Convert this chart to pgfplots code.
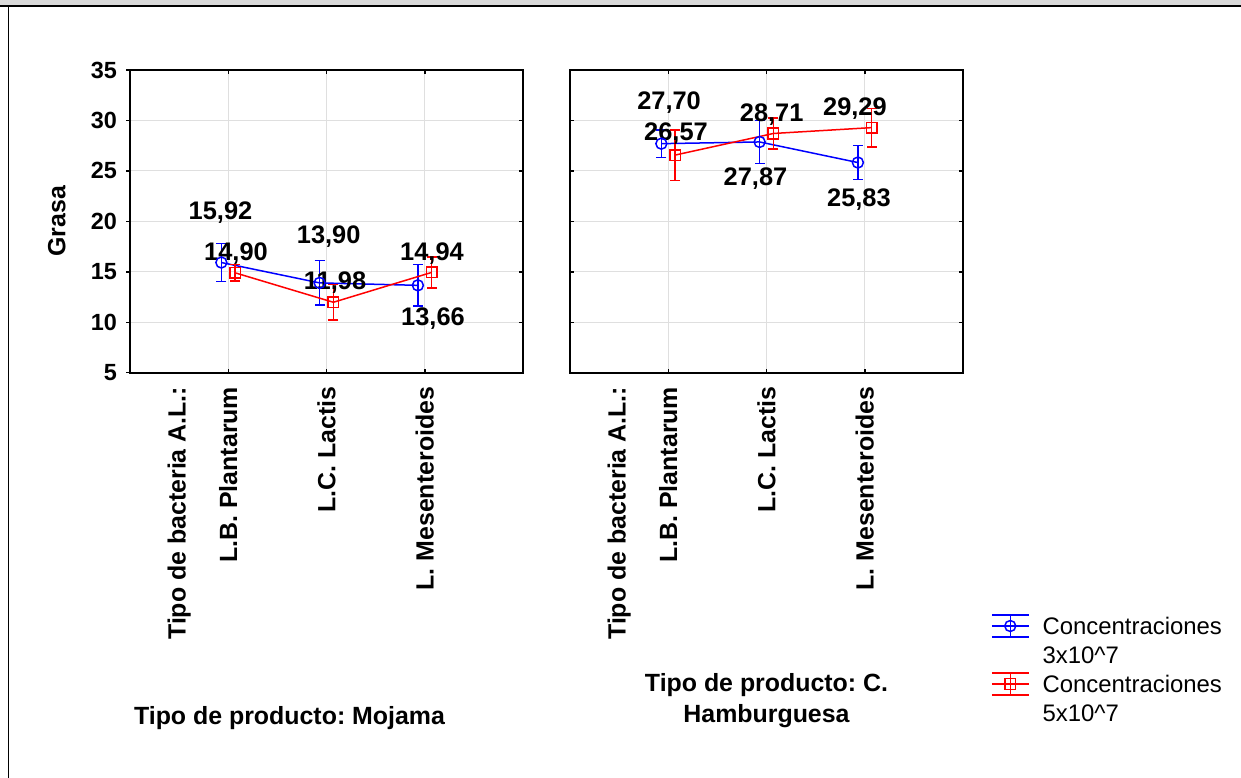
\documentclass[border=0pt]{standalone}
\usepackage{fontspec}
\setmainfont{Liberation Sans}
\usepackage{pgfplots}
\pgfplotsset{compat=1.18}
\frenchspacing

\tikzset{lab/.style={font=\bfseries\fontsize{25.5}{30}\selectfont, anchor=base, inner sep=0pt}}
\pgfplotsset{
  panel/.style={
    scale only axis, width=393bp, height=302.7bp,
    anchor=south west,
    xmin=0, xmax=4, ymin=5, ymax=35,
    xtick={1,2,3},
    ytick={5,10,...,35},
    xticklabels={L.B. Plantarum, L.C. Lactis, L. Mesenteroides},
    extra x ticks={0.5},
    extra x tick labels={Tipo de bacteria A.L.:},
    extra x tick style={major tick length=0pt, grid=none},
    grid=major,
    major grid style={draw=gray!25, line width=1bp},
    axis line style={line width=1.6bp},
    tick style={black, line width=1.5bp},
    major tick length=4bp,
    tick align=inside,
    x tick label style={rotate=90, anchor=east, inner sep=0pt, font=\bfseries\fontsize{25}{30}\selectfont},
    xticklabel shift=14bp,
    y tick label style={font=\bfseries\fontsize{23.5}{27}\selectfont, inner sep=0pt, xshift=-13bp},
    /pgf/number format/assume math mode=true,
    clip=false,
  },
  blueS/.style={draw=blue, line width=1.5bp, mark=o, mark size=5.5bp,
    mark options={solid, draw=blue, fill=none, line width=1.5bp},
    error bars/.cd, y dir=both, y explicit,
    error bar style={line width=1.5bp, draw=blue},
    error mark options={rotate=90, mark size=5bp, line width=1.5bp, draw=blue}},
  redS/.style={draw=red, line width=1.5bp, mark=square, mark size=5.3bp,
    mark options={solid, draw=red, fill=none, line width=1.5bp},
    error bars/.cd, y dir=both, y explicit,
    error bar style={line width=1.5bp, draw=red},
    error mark options={rotate=90, mark size=5bp, line width=1.5bp, draw=red}},
}

\begin{document}
\begin{tikzpicture}
\path[use as bounding box] (0bp,0bp) rectangle (1241bp,-778bp);
\fill[gray!30] (0bp,0bp) rectangle (1241bp,-5bp);
\draw[line width=1.5bp] (0bp,-5.8bp) -- (1241bp,-5.8bp);
\draw[line width=1bp] (8bp,-5.8bp) -- (8bp,-778bp);

% Left panel: Mojama
\begin{axis}[panel, at={(130bp,-372.7bp)},
  ytick pos=right, yticklabel pos=left,
  ylabel={Grasa},
  ylabel style={at={(axis description cs:-0.186,0.5)}, anchor=center, font=\bfseries\fontsize{25}{30}\selectfont},
]
\addplot[blueS] coordinates {
  (0.93,15.92) +- (0,1.87)
  (1.93,13.90) +- (0,2.20)
  (2.93,13.66) +- (0,2.06)
};
\addplot[redS] coordinates {
  (1.07,14.90) +- (0,0.82)
  (2.07,11.98) +- (0,1.77)
  (3.07,14.94) +- (0,1.55)
};
\node[lab] at (axis cs:0.921,20.14) {15,92};
\node[lab] at (axis cs:2.022,17.76) {13,90};
\node[lab] at (axis cs:3.084,9.68) {13,66};
\node[lab] at (axis cs:1.079,16.17) {14,90};
\node[lab] at (axis cs:2.087,13.20) {11,98};
\node[lab] at (axis cs:3.074,16.12) {14,94};
\end{axis}
% outward ticks on the left axis of the left panel
\begin{axis}[scale only axis, width=393bp, height=302.7bp, anchor=south west,
  at={(130bp,-372.7bp)}, xmin=0, xmax=4, ymin=5, ymax=35,
  axis x line=none, axis y line*=left, ytick={5,10,...,35}, yticklabels={},
  axis line style={line width=1.6bp, -}, tick style={black, line width=1.5bp},
  major tick length=4bp, tick align=outside]
\end{axis}

% Right panel: C. Hamburguesa
\begin{axis}[panel, at={(570bp,-372.7bp)},
  yticklabels={},
  legend image code/.code={
    \draw[#1, line width=1.5bp, mark repeat=2, mark phase=2] plot coordinates {(0bp,2.6bp) (18.5bp,2.6bp) (37bp,2.6bp)};
    \draw[#1, line width=1.5bp] (0bp,13.6bp) -- (37bp,13.6bp);
    \draw[#1, line width=1.5bp] (0bp,-8.4bp) -- (37bp,-8.4bp);
    \draw[#1, line width=1.5bp] (18.5bp,-8.4bp) -- (18.5bp,13.6bp);
  },
  legend style={at={(axis description cs:1.0713,-0.7975)}, anchor=north west,
    draw=none, fill=none, inner sep=0pt, outer sep=0pt, row sep=0pt,
    font=\fontsize{24}{29}\selectfont,
    nodes={inner sep=0pt, text height=20.5bp, text depth=8.5bp, anchor=west},
    /tikz/every odd column/.append style={column sep=13bp}},
  legend cell align=left,
]
\addplot[blueS] coordinates {
  (0.93,27.70) +- (0,1.35)
  (1.93,27.87) +- (0,2.15)
  (2.93,25.83) +- (0,1.70)
};
\addlegendentry{Concentraciones}
\addlegendimage{empty legend}
\addlegendentry{3x10\textasciicircum 7}
\addplot[redS] coordinates {
  (1.07,26.57) +- (0,2.50)
  (2.07,28.71) +- (0,1.55)
  (3.07,29.29) +- (0,1.90)
};
\addlegendentry{Concentraciones}
\addlegendimage{empty legend}
\addlegendentry{5x10\textasciicircum 7}
\node[lab] at (axis cs:1.008,31.09) {27,70};
\node[lab] at (axis cs:1.888,23.60) {27,87};
\node[lab] at (axis cs:2.941,21.47) {25,83};
\node[lab] at (axis cs:1.079,27.97) {26,57};
\node[lab] at (axis cs:2.053,29.90) {28,71};
\node[lab] at (axis cs:2.900,30.47) {29,29};
\end{axis}

\node[font=\bfseries\fontsize{25}{30}\selectfont, anchor=base] at (289.5bp,-724.5bp) {Tipo de producto: Mojama};
\node[font=\bfseries\fontsize{25}{30}\selectfont, anchor=base] at (766.5bp,-691bp) {Tipo de producto: C.};
\node[font=\bfseries\fontsize{25}{30}\selectfont, anchor=base] at (766.5bp,-722.5bp) {Hamburguesa};
\end{tikzpicture}
\end{document}
